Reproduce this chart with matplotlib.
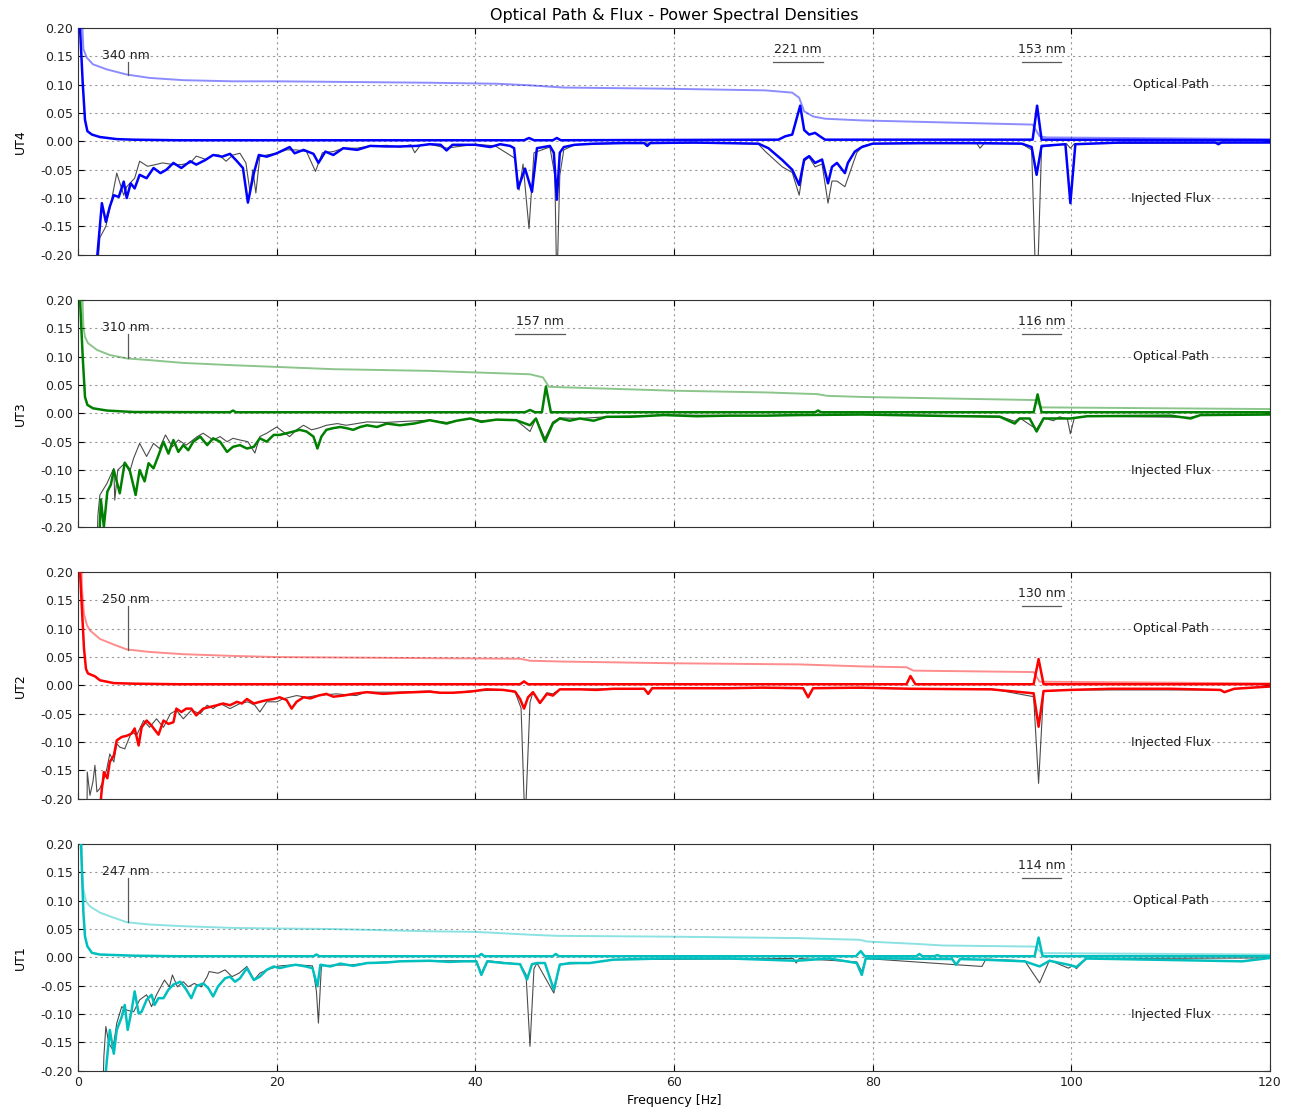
"""
Optical path & injected flux PSDs for the four UTs
"""
import numpy as np
import matplotlib
matplotlib.use('Agg')
import matplotlib.pyplot as plt
from matplotlib.ticker import FormatStrFormatter

# ---------------- UT4 ----------------
ut4_psd_f = [0.1, 0.2, 0.47, 0.7, 0.94, 1.4, 2.2, 3.9, 5.6, 10, 44.9, 45.4, 45.9, 47.8, 48.2, 48.6,
             70.5, 71.2, 71.9, 72.7, 73.1, 73.6, 74.2, 74.6, 75.2, 96.1, 96.55, 97.0, 120]
ut4_psd = [0.5, 0.2, 0.1035, 0.038, 0.018, 0.012, 0.0077, 0.004, 0.003, 0.002, 0.002, 0.006, 0.002, 0.002, 0.006, 0.002,
           0.003, 0.009, 0.012, 0.063, 0.02, 0.012, 0.015, 0.01, 0.003, 0.003, 0.063, 0.003, 0.002]
ut4_cum_f = [0.3, 0.54, 0.87, 1.5, 2.9, 4.9, 7.2, 10.6, 15.6, 20, 35.4, 42.2, 45.4, 48.9, 59, 69.2, 71.9,
             72.6, 73.1, 74.0, 75.2, 78.9, 96.1, 96.8, 97.5, 120]
ut4_cum = [0.25, 0.163, 0.148, 0.136, 0.127, 0.118, 0.112, 0.108, 0.106, 0.106, 0.1035, 0.1017, 0.099, 0.095, 0.093,
           0.090, 0.086, 0.077, 0.053, 0.044, 0.040, 0.037, 0.0296, 0.009, 0.007, 0.004]
ut4_flux_f = [1.8, 2.4, 2.8, 3.2, 3.6, 4.1, 4.6, 4.9, 5.3, 5.7, 6.2, 6.9, 7.6, 8.3, 8.9, 9.6, 10.4, 11.3, 11.9, 12.8,
              13.6, 14.5, 15.3, 16.0, 16.6, 17.1, 17.7, 18.2, 19.0, 20.0, 21.3, 21.8, 22.7, 23.7, 24.2, 24.9, 25.7,
              26.7, 28.1, 29.4, 31.1, 32.4, 34.1, 35.4, 36.5, 37.1, 37.7, 40, 41.5, 42.5, 43.5, 43.9, 44.3, 45.0,
              45.7, 46.2, 47.5, 47.9, 48.2, 48.5, 48.9, 50, 52, 55, 57.0, 57.3, 57.6, 62, 65, 68.5, 69.5, 70.9,
              71.9, 72.6, 73.1, 73.6, 74.2, 74.9, 75.5, 75.9, 76.4, 77.2, 77.5, 78.2, 78.9, 80, 85, 90, 95, 96.0,
              96.5, 97.0, 99.4, 99.9, 100.4, 105, 110, 114.5, 114.8, 115.1, 120]
ut4_flux = [-0.23, -0.109, -0.142, -0.115, -0.095, -0.098, -0.071, -0.100, -0.074, -0.083, -0.059, -0.065, -0.047,
            -0.056, -0.050, -0.038, -0.047, -0.035, -0.041, -0.033, -0.024, -0.027, -0.022, -0.035, -0.047, -0.108,
            -0.056, -0.024, -0.027, -0.021, -0.010, -0.021, -0.015, -0.022, -0.038, -0.018, -0.024, -0.012, -0.015,
            -0.008, -0.009, -0.009, -0.008, -0.005, -0.006, -0.016, -0.006, -0.006, -0.010, -0.005, -0.008, -0.012,
            -0.083, -0.048, -0.089, -0.012, -0.008, -0.020, -0.103, -0.020, -0.010, -0.006, -0.004, -0.003, -0.003,
            -0.008, -0.003, -0.002, -0.003, -0.004, -0.012, -0.033, -0.050, -0.077, -0.032, -0.026, -0.038, -0.032,
            -0.074, -0.045, -0.038, -0.056, -0.038, -0.018, -0.010, -0.004, -0.003, -0.003, -0.004, -0.010, -0.059,
            -0.008, -0.005, -0.109, -0.005, -0.002, -0.002, -0.002, -0.005, -0.002, -0.002]
ut4_blk_f = [1.9, 2.2, 2.8, 3.3, 3.9, 4.6, 4.9, 5.7, 6.2, 7.0, 7.8, 8.5, 9.6, 10.4, 11.3, 11.9, 12.9, 13.6, 14.2,
             14.9, 15.6, 16.3, 16.9, 17.3, 17.6, 17.9, 18.3, 19.0, 20.0, 21.0, 22.0, 23.0, 23.9, 24.6, 25.7, 26.7,
             28.1, 29.4, 31.1, 32.4, 33.5, 33.9, 34.5, 35.4, 37.1, 40, 42, 44.0, 44.4, 44.8, 45.4, 45.9, 47.5, 48.0,
             48.2, 48.5, 48.9, 50, 55, 60, 65, 68.5, 69.2, 70.9, 71.9, 72.6, 73.1, 73.6, 74.2, 74.9, 75.5, 75.9,
             76.4, 77.2, 77.8, 78.4, 79, 80, 90.5, 90.8, 91.2, 95, 96.0, 96.5, 97.0, 99.5, 99.9, 100.3, 120]
ut4_blk = [-0.24, -0.17, -0.15, -0.11, -0.056, -0.095, -0.08, -0.065, -0.035, -0.044, -0.041, -0.038, -0.041, -0.041,
           -0.038, -0.026, -0.032, -0.024, -0.024, -0.035, -0.024, -0.021, -0.038, -0.088, -0.050, -0.091, -0.027,
           -0.024, -0.021, -0.015, -0.015, -0.018, -0.053, -0.020, -0.018, -0.012, -0.012, -0.008, -0.007, -0.010,
           -0.006, -0.020, -0.006, -0.005, -0.012, -0.005, -0.008, -0.030, -0.086, -0.040, -0.154, -0.020, -0.010,
           -0.060, -0.260, -0.060, -0.015, -0.006, -0.003, -0.003, -0.003, -0.005, -0.018, -0.045, -0.055, -0.095,
           -0.035, -0.028, -0.045, -0.040, -0.109, -0.070, -0.070, -0.080, -0.050, -0.020, -0.008, -0.004, -0.004,
           -0.012, -0.004, -0.004, -0.015, -0.300, -0.010, -0.004, -0.012, -0.004, -0.002]

# ---------------- UT3 ----------------
ut3_psd_f = [0.1, 0.2, 0.47, 0.7, 0.94, 1.5, 2.9, 5.6, 15.3, 15.6, 15.9, 45.0, 45.5, 46.0, 46.7, 47.1, 47.6,
             74.2, 74.5, 74.8, 96.2, 96.6, 97.0, 120]
ut3_psd = [0.5, 0.2, 0.1, 0.029, 0.015, 0.009, 0.005, 0.0024, 0.002, 0.005, 0.002, 0.002, 0.006, 0.002, 0.002, 0.047,
           0.002, 0.002, 0.005, 0.002, 0.002, 0.0335, 0.002, 0.002]
ut3_cum_f = [0.35, 0.54, 0.7, 1.0, 1.9, 3.2, 4.9, 7.2, 10.6, 15.6, 20, 25.7, 35.4, 45.5, 46.8, 47.4, 48.9, 60,
             69.2, 74.4, 75.4, 78.9, 96.35, 97.0, 120]
ut3_cum = [0.25, 0.153, 0.135, 0.124, 0.112, 0.103, 0.097, 0.094, 0.089, 0.085, 0.082, 0.078, 0.075, 0.069, 0.0635,
           0.047, 0.046, 0.040, 0.037, 0.034, 0.031, 0.029, 0.0235, 0.0106, 0.0076]
ut3_flux_f = [2.1, 2.3, 2.6, 2.95, 3.3, 3.6, 4.2, 4.7, 5.2, 5.8, 6.2, 6.7, 7.1, 7.6, 8.1, 8.6, 9.1, 9.6, 10.1, 10.6,
              11.1, 11.6, 12.3, 13.0, 13.6, 14.3, 15.0, 15.6, 16.3, 17.0, 17.7, 18.3, 19.0, 19.7, 20.3, 21.0, 21.7,
              22.3, 23.0, 23.7, 24.1, 24.5, 25.0, 25.7, 26.4, 27.0, 27.7, 28.4, 29.1, 30.1, 31.1, 32.4, 33.8, 35.4,
              37.1, 38.1, 39.5, 40.6, 42.1, 44.1, 45.5, 46.1, 47.0, 47.8, 48.5, 49.5, 50.5, 51.9, 53.2, 55.6, 59,
              62.3, 65.6, 69.2, 72.6, 78.9, 85.4, 92.8, 94.3, 94.8, 95.8, 96.5, 97.2, 98.2, 99.9, 101.6, 110, 112,
              113, 120]
ut3_flux = [-0.24, -0.152, -0.2, -0.138, -0.126, -0.1, -0.141, -0.087, -0.1, -0.144, -0.1, -0.12, -0.088, -0.097,
            -0.074, -0.05, -0.071, -0.047, -0.068, -0.056, -0.065, -0.05, -0.041, -0.056, -0.044, -0.05, -0.068,
            -0.059, -0.056, -0.062, -0.059, -0.044, -0.05, -0.038, -0.038, -0.035, -0.032, -0.029, -0.032, -0.041,
            -0.062, -0.041, -0.029, -0.026, -0.024, -0.026, -0.029, -0.024, -0.021, -0.024, -0.018, -0.021, -0.018,
            -0.012, -0.018, -0.013, -0.009, -0.015, -0.011, -0.012, -0.021, -0.009, -0.05, -0.018, -0.009, -0.013,
            -0.009, -0.013, -0.006, -0.006, -0.003, -0.005, -0.004, -0.004, -0.003, -0.002, -0.004, -0.006, -0.018,
            -0.009, -0.009, -0.032, -0.009, -0.009, -0.009, -0.005, -0.004, -0.009, -0.003, -0.002]
ut3_blk_f = [1.9, 2.0, 2.2, 2.9, 3.6, 3.7, 4.0, 4.7, 5.2, 5.6, 6.2, 6.9, 7.6, 8.2, 8.8, 9.5, 10.1, 10.9, 12.0, 12.6,
             13.6, 14.3, 15.0, 15.6, 16.3, 17.1, 17.8, 18.3, 19.0, 20.0, 20.6, 21.3, 22.0, 22.7, 23.5, 24.2, 25.0,
             26.1, 27.0, 29.1, 31, 33, 35.4, 37.1, 39.5, 40.6, 42.1, 44.1, 45.5, 46.1, 47.0, 47.8, 48.5, 50.5, 53.2,
             59, 69.2, 78.9, 92.8, 94.3, 94.8, 96.5, 97.2, 98.2, 98.8, 99.6, 99.9, 100.3, 101.6, 112, 113, 120]
ut3_blk = [-0.24, -0.18, -0.144, -0.124, -0.097, -0.153, -0.1, -0.088, -0.103, -0.079, -0.053, -0.076, -0.053,
           -0.062, -0.038, -0.059, -0.047, -0.056, -0.041, -0.035, -0.047, -0.041, -0.050, -0.044, -0.047, -0.050,
           -0.070, -0.041, -0.035, -0.024, -0.032, -0.041, -0.029, -0.021, -0.029, -0.026, -0.021, -0.018, -0.021,
           -0.015, -0.016, -0.014, -0.012, -0.016, -0.009, -0.013, -0.011, -0.012, -0.032, -0.009, -0.044, -0.015,
           -0.008, -0.009, -0.006, -0.003, -0.004, -0.002, -0.005, -0.014, -0.008, -0.028, -0.008, -0.013, -0.006,
           -0.010, -0.036, -0.008, -0.005, -0.007, -0.003, -0.002]

# ---------------- UT2 ----------------
ut2_psd_f = [0.1, 0.2, 0.6, 0.8, 1.0, 1.7, 2.2, 3.6, 5.6, 10, 44.5, 44.9, 45.3, 83.4, 83.8, 84.3, 96.2, 96.7,
             97.2, 120]
ut2_psd = [0.5, 0.2, 0.065, 0.029, 0.021, 0.016, 0.009, 0.004, 0.003, 0.002, 0.002, 0.007, 0.002, 0.002, 0.0165,
           0.002, 0.002, 0.0465, 0.002, 0.002]
ut2_cum_f = [0.3, 0.4, 0.6, 0.9, 1.2, 2.2, 3.6, 4.9, 7.2, 10.6, 15.6, 20, 35.4, 44.5, 45.5, 48.9, 60, 72.6, 78.9,
             83.4, 84.1, 96.2, 96.8, 120]
ut2_cum = [0.25, 0.17, 0.126, 0.106, 0.097, 0.082, 0.072, 0.0635, 0.059, 0.055, 0.052, 0.05, 0.048, 0.047, 0.0435,
           0.042, 0.039, 0.037, 0.0335, 0.032, 0.026, 0.0235, 0.0065, 0.0035]
ut2_flux_f = [2.1, 2.4, 2.5, 2.6, 2.95, 3.2, 3.6, 3.9, 4.4, 4.9, 5.4, 5.7, 6.1, 6.4, 6.9, 7.4, 8.1, 8.6, 9.1, 9.6,
              9.9, 10.4, 10.9, 11.4, 11.9, 12.6, 13.3, 14.0, 14.6, 15.3, 16.0, 16.5, 17.0, 17.7, 18.3, 19.0, 19.7,
              20.3, 21.0, 21.5, 22.0, 22.7, 23.4, 24.2, 25.0, 25.7, 26.7, 27.7, 29.1, 30.7, 32.4, 35.4, 36.4, 37.8,
              39.5, 41.1, 42.8, 44.0, 44.5, 44.9, 45.3, 45.8, 46.5, 47.2, 47.8, 48.5, 50.5, 52.2, 53.9, 57.0, 57.4,
              57.8, 62.3, 65.6, 68.9, 73.0, 73.5, 74.0, 78.7, 83.8, 91.9, 96.2, 96.7, 97.2, 99.9, 104, 110, 115.0,
              115.4, 116.4, 120]
ut2_flux = [-0.24, -0.182, -0.17, -0.153, -0.164, -0.135, -0.124, -0.097, -0.091, -0.089, -0.085, -0.076, -0.106,
            -0.074, -0.062, -0.071, -0.087, -0.062, -0.068, -0.065, -0.041, -0.047, -0.041, -0.041, -0.053, -0.041,
            -0.038, -0.035, -0.032, -0.035, -0.029, -0.032, -0.024, -0.032, -0.029, -0.026, -0.024, -0.021, -0.026,
            -0.041, -0.029, -0.021, -0.023, -0.018, -0.015, -0.020, -0.018, -0.015, -0.012, -0.015, -0.013, -0.011,
            -0.013, -0.013, -0.011, -0.007, -0.008, -0.011, -0.024, -0.041, -0.021, -0.012, -0.031, -0.015, -0.018,
            -0.007, -0.007, -0.008, -0.006, -0.006, -0.015, -0.005, -0.005, -0.005, -0.004, -0.005, -0.021, -0.005,
            -0.004, -0.006, -0.007, -0.014, -0.073, -0.010, -0.008, -0.006, -0.006, -0.008, -0.012, -0.006, -0.002]
ut2_blk_f = [0.9, 0.93, 1.2, 1.5, 1.7, 1.9, 2.2, 2.6, 2.9, 3.2, 3.6, 3.9, 4.2, 4.7, 5.4, 5.9, 6.6, 7.2, 7.9, 8.6,
             9.3, 9.9, 10.6, 11.4, 12.3, 13.0, 13.6, 14.3, 15.3, 16.3, 17.1, 17.8, 18.3, 19.0, 20.0, 20.6, 21.3,
             22.0, 23.0, 24, 26, 28, 29, 32, 35.4, 37, 39.5, 42.8, 44.0, 44.6, 45.0, 45.5, 45.8, 46.5, 47.2, 47.8,
             48.5, 53.9, 57.0, 57.4, 57.8, 68.9, 73.0, 73.5, 74.0, 91.9, 96.2, 96.7, 97.2, 99.9, 115.0, 115.4, 116.4,
             120]
ut2_blk = [-0.24, -0.153, -0.194, -0.17, -0.141, -0.188, -0.182, -0.165, -0.147, -0.121, -0.135, -0.103, -0.109,
           -0.112, -0.082, -0.088, -0.062, -0.074, -0.059, -0.074, -0.050, -0.044, -0.059, -0.044, -0.050, -0.035,
           -0.041, -0.032, -0.041, -0.032, -0.029, -0.035, -0.047, -0.029, -0.029, -0.024, -0.021, -0.018, -0.021,
           -0.018, -0.015, -0.018, -0.012, -0.012, -0.010, -0.014, -0.010, -0.008, -0.012, -0.040, -0.250, -0.030,
           -0.012, -0.032, -0.013, -0.015, -0.007, -0.006, -0.006, -0.015, -0.005, -0.004, -0.005, -0.021, -0.005,
           -0.006, -0.020, -0.173, -0.010, -0.008, -0.008, -0.012, -0.006, -0.002]

# ---------------- UT1 ----------------
ut1_psd_f = [0.2, 0.3, 0.54, 0.7, 0.94, 1.4, 2.2, 5.6, 10, 23.7, 24.0, 24.3, 40.3, 40.6, 40.9, 47.8, 48.1, 48.4,
             78.3, 78.8, 79.2, 84.4, 84.7, 85.0, 86.2, 86.5, 86.8, 96.3, 96.7, 97.1, 120]
ut1_psd = [0.5, 0.2, 0.079, 0.037, 0.0195, 0.008, 0.005, 0.003, 0.002, 0.002, 0.005, 0.002, 0.002, 0.006, 0.002,
           0.002, 0.006, 0.002, 0.002, 0.011, 0.002, 0.002, 0.006, 0.002, 0.002, 0.004, 0.002, 0.002, 0.035, 0.002,
           0.002]
ut1_cum_f = [0.3, 0.4, 0.54, 0.8, 1.2, 2.2, 3.6, 4.9, 7.2, 10.6, 15.6, 20, 25.7, 35.4, 40, 45.5, 48.2, 60, 72.6,
             78.7, 79.4, 84.7, 87, 96.35, 97.0, 120]
ut1_cum = [0.25, 0.155, 0.12, 0.099, 0.09, 0.079, 0.07, 0.062, 0.058, 0.055, 0.052, 0.051, 0.05, 0.046, 0.045,
           0.040, 0.038, 0.0365, 0.034, 0.031, 0.028, 0.0235, 0.021, 0.019, 0.0075, 0.005]
ut1_flux_f = [2.6, 2.9, 3.2, 3.6, 3.9, 4.4, 4.7, 5.0, 5.4, 5.7, 6.1, 6.4, 6.9, 7.4, 7.7, 8.1, 8.6, 9.1, 9.6, 10.3,
              10.9, 11.4, 11.9, 12.6, 13.1, 13.6, 14.1, 14.8, 15.3, 15.8, 16.3, 17.0, 17.7, 18.3, 19.0, 19.7, 20.3,
              21.0, 21.9, 22.9, 23.6, 24.1, 24.4, 25.4, 26.4, 27.7, 29.1, 31.1, 32.4, 35.4, 37.4, 38.8, 40.1, 40.6,
              41.2, 42.8, 44.5, 45.2, 45.7, 46.2, 47.0, 47.9, 48.5, 49.5, 51.5, 53.9, 59, 65.6, 72.3, 75.6, 78.4,
              78.9, 79.3, 81.8, 88.0, 88.4, 88.8, 91.0, 95.3, 96.8, 97.8, 99.7, 100.5, 101.5, 114.2, 117.2, 120]
ut1_flux = [-0.24, -0.182, -0.128, -0.17, -0.128, -0.105, -0.084, -0.128, -0.093, -0.06, -0.099, -0.096, -0.075,
            -0.066, -0.084, -0.072, -0.072, -0.057, -0.048, -0.043, -0.057, -0.072, -0.051, -0.046, -0.054, -0.069,
            -0.051, -0.037, -0.034, -0.043, -0.037, -0.019, -0.040, -0.034, -0.022, -0.016, -0.019, -0.016, -0.013,
            -0.016, -0.019, -0.051, -0.013, -0.016, -0.011, -0.015, -0.010, -0.009, -0.007, -0.006, -0.008, -0.007,
            -0.007, -0.031, -0.007, -0.010, -0.012, -0.039, -0.012, -0.010, -0.010, -0.057, -0.013, -0.010, -0.010,
            -0.004, -0.002, -0.002, -0.006, -0.002, -0.010, -0.031, -0.002, -0.002, -0.003, -0.013, -0.003, -0.004,
            -0.007, -0.016, -0.006, -0.013, -0.017, -0.002, -0.006, -0.007, -0.001]
ut1_blk_f = [2.5, 2.6, 2.8, 3.1, 3.5, 3.9, 4.4, 4.9, 5.6, 6.2, 6.9, 7.4, 7.9, 8.7, 9.2, 9.5, 10.0, 10.6, 11.1, 11.7,
             12.4, 13.0, 13.2, 14.1, 14.8, 15.5, 16.2, 17.0, 17.7, 18.3, 19.0, 20.3, 21.9, 23.6, 24.0, 24.2, 24.5,
             25.4, 27.7, 29.1, 32.4, 35.4, 40.1, 40.6, 41.2, 44.5, 45.1, 45.5, 45.9, 46.2, 47.9, 48.5, 51.5, 53.9,
             72.0, 72.3, 72.6, 78.4, 78.9, 79.3, 88.4, 91.0, 91.4, 95.3, 96.8, 97.8, 99.7, 100.2, 100.5, 101.5, 120]
ut1_blk = [-0.24, -0.175, -0.122, -0.152, -0.163, -0.116, -0.087, -0.093, -0.096, -0.075, -0.066, -0.087, -0.066,
           -0.040, -0.052, -0.031, -0.052, -0.043, -0.052, -0.046, -0.052, -0.034, -0.025, -0.028, -0.022, -0.034,
           -0.028, -0.016, -0.040, -0.028, -0.022, -0.015, -0.013, -0.015, -0.060, -0.116, -0.015, -0.014, -0.013,
           -0.010, -0.007, -0.006, -0.006, -0.028, -0.006, -0.012, -0.030, -0.157, -0.020, -0.010, -0.063, -0.012,
           -0.010, -0.004, -0.002, -0.010, -0.002, -0.008, -0.025, -0.002, -0.013, -0.016, -0.003, -0.006, -0.045,
           -0.005, -0.019, -0.014, -0.020, -0.002, -0.001]

# labels: (text, f_start, f_end) ; f_end None -> vertical marker on cumulative curve
ut4_notes = [('340 nm', 5, None), ('221 nm', 70, 75), ('153 nm', 95, 99)]
ut3_notes = [('310 nm', 5, None), ('157 nm', 44, 49), ('116 nm', 95, 99)]
ut2_notes = [('250 nm', 5, None), ('130 nm', 95, 99)]
ut1_notes = [('247 nm', 5, None), ('114 nm', 95, 99)]

yticks = [-0.20, -0.15, -0.10, -0.05, 0.00, 0.05, 0.10, 0.15, 0.20]
xticks = [0, 20, 40, 60, 80, 100, 120]

panels = [
    ('UT4', 'b', ut4_psd_f, ut4_psd, ut4_cum_f, ut4_cum, ut4_flux_f, ut4_flux, ut4_blk_f, ut4_blk, ut4_notes),
    ('UT3', 'g', ut3_psd_f, ut3_psd, ut3_cum_f, ut3_cum, ut3_flux_f, ut3_flux, ut3_blk_f, ut3_blk, ut3_notes),
    ('UT2', 'r', ut2_psd_f, ut2_psd, ut2_cum_f, ut2_cum, ut2_flux_f, ut2_flux, ut2_blk_f, ut2_blk, ut2_notes),
    ('UT1', 'c', ut1_psd_f, ut1_psd, ut1_cum_f, ut1_cum, ut1_flux_f, ut1_flux, ut1_blk_f, ut1_blk, ut1_notes),
]
colors = {'b': '#0000ff', 'g': '#008000', 'r': '#ff0000', 'c': '#00bfbf'}

plt.rcParams['font.family'] = ['DejaVu Sans']
plt.rcParams['font.size'] = 9

fig, axes = plt.subplots(4, 1, figsize=(12.92, 11.13), dpi=100, sharex=True)
fig.subplots_adjust(left=0.0604, right=0.983, top=0.9748, bottom=0.038, hspace=0.2)

for ax, (name, c, pf, pv, cf, cv, ff, fv, bf, bv, notes) in zip(axes, panels):
    col = colors[c]
    ax.plot(cf, cv, color=col, alpha=0.45, lw=1.4, zorder=2)
    ax.plot(pf, pv, color=col, lw=1.8, zorder=4)
    ax.plot(bf, bv, color='k', alpha=0.7, lw=0.8, zorder=3)
    ax.plot(ff, fv, color=col, lw=1.8, zorder=3.5)

    for txt, f0, f1 in notes:
        if f1 is None:
            yb = np.interp(f0, cf, cv)
            ax.plot([f0, f0], [0.14, yb], color='0.35', lw=0.9, zorder=5)
            ax.text(f0 - 0.2, 0.14, txt, ha='center', va='bottom', color='#222222', zorder=6)
        else:
            ax.plot([f0, f1], [0.14, 0.14], color='0.35', lw=0.9, zorder=5)
            ax.text((f0 + f1) / 2.0, 0.15, txt, ha='center', va='bottom', color='#222222', zorder=6)

    ax.text(110, 0.1, 'Optical Path', ha='center', va='center', color='#222222')
    ax.text(110, -0.1, 'Injected Flux', ha='center', va='center', color='#222222')

    ax.set_xlim(0, 120)
    ax.set_ylim(-0.2, 0.2)
    ax.set_yticks(yticks)
    ax.set_xticks(xticks)
    ax.yaxis.set_major_formatter(FormatStrFormatter('%.2f'))
    ax.grid(True, color='#999999', linestyle=(0, (2, 3)), lw=0.8)
    ax.tick_params(direction='in', top=True, right=True, length=4, labelcolor='#222222')
    for sp in ax.spines.values():
        sp.set_color('#333333')
    ax.set_ylabel(name, labelpad=10)

axes[0].set_title('Optical Path & Flux - Power Spectral Densities', fontsize=11.5)
axes[-1].set_xlabel('Frequency [Hz]')

plt.savefig('out.png', dpi=100)
